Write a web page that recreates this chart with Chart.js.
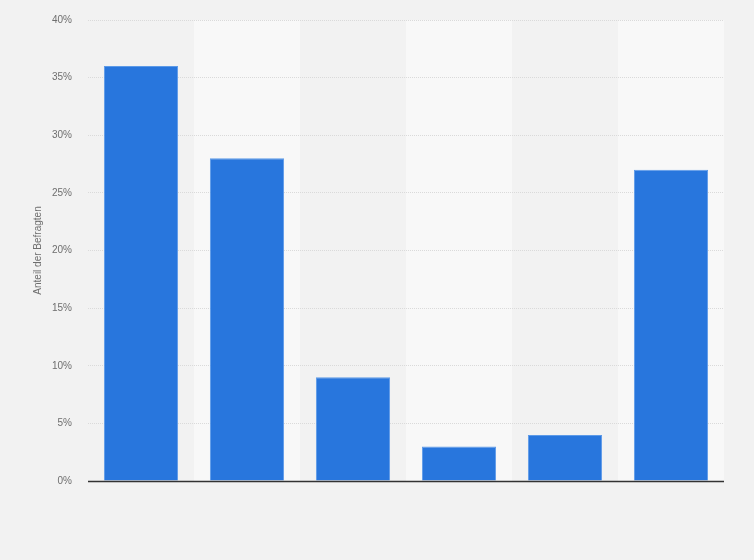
<!DOCTYPE html>
<html>
<head>
<meta charset="utf-8">
<script src="https://cdn.jsdelivr.net/npm/chart.js@4"></script>
<style>
  html, body { margin: 0; padding: 0; background: #f2f2f2; }
  #wrap { width: 754px; height: 560px; position: relative; }
</style>
</head>
<body>
<div id="wrap"><canvas id="chart"></canvas></div>
<script>
// bar chart — share of respondents, six unnamed answers

const categories = ['1', '2', '3', '4', '5', '6'];
const shares = [36, 28, 9, 3, 4, 27];
const yTicks = [0, 5, 10, 15, 20, 25, 30, 35, 40];

const BAR_COLOR = '#2876dd';
const BAR_EDGE = '#5c9ae8';

// light shading behind every second category column (under the grid)
const columnShade = {
  id: 'columnShade',
  beforeDraw(chart) {
    const { ctx, chartArea, scales } = chart;
    const step = (chartArea.right - chartArea.left) / categories.length;
    ctx.save();
    categories.forEach((c, i) => {
      const mid = scales.x.getPixelForValue(i);
      ctx.fillStyle = i % 2 ? '#f8f8f8' : '#f2f2f2';
      ctx.fillRect(mid - step / 2, chartArea.top, step, chartArea.bottom - chartArea.top);
    });
    ctx.restore();
  }
};

// draw the baseline on top of the bars
const baseLine = {
  id: 'baseLine',
  afterDatasetsDraw(chart) {
    const { ctx, chartArea, scales } = chart;
    const y = Math.round(scales.y.getPixelForValue(0)) + 0.5;
    ctx.save();
    ctx.strokeStyle = '#333333';
    ctx.lineWidth = 1.5;
    ctx.beginPath();
    ctx.moveTo(chartArea.left, y);
    ctx.lineTo(chartArea.right, y);
    ctx.stroke();
    ctx.restore();
  }
};

new Chart(document.getElementById('chart'), {
  type: 'bar',
  data: {
    labels: categories,
    datasets: [{
      data: shares,
      backgroundColor: BAR_COLOR,
      borderColor: BAR_EDGE,
      borderWidth: 1,
      borderSkipped: 'bottom',
      barPercentage: 0.7,
      categoryPercentage: 1
    }]
  },
  options: {
    responsive: true,
    maintainAspectRatio: false,
    animation: false,
    layout: { padding: { left: 32, right: 30, top: 20, bottom: 71 } },
    plugins: {
      legend: { display: false },
      tooltip: { enabled: false }
    },
    scales: {
      x: {
        grid: { display: false },
        border: { display: false },
        ticks: { display: false }
      },
      y: {
        min: 0,
        max: 40,
        afterBuildTicks: axis => { axis.ticks = yTicks.map(v => ({ value: v })); },
        afterFit: axis => {
          axis.width = 56;
          axis.paddingTop = 0;
          axis.paddingBottom = 0;
        },
        grid: {
          color: '#dadada',
          lineWidth: 1,
          drawTicks: false
        },
        border: { display: false, dash: [1, 1] },
        ticks: {
          color: '#6e6e6e',
          padding: 16,
          font: { size: 10, family: 'Arial, "Liberation Sans", sans-serif' },
          callback: v => v + '%'
        },
        title: {
          display: true,
          text: 'Anteil der Befragten',
          color: '#6e6e6e',
          padding: { top: 0, bottom: 0 },
          font: { size: 10, family: 'Arial, "Liberation Sans", sans-serif' }
        }
      }
    }
  },
  plugins: [columnShade, baseLine]
});
</script>
</body>
</html>
